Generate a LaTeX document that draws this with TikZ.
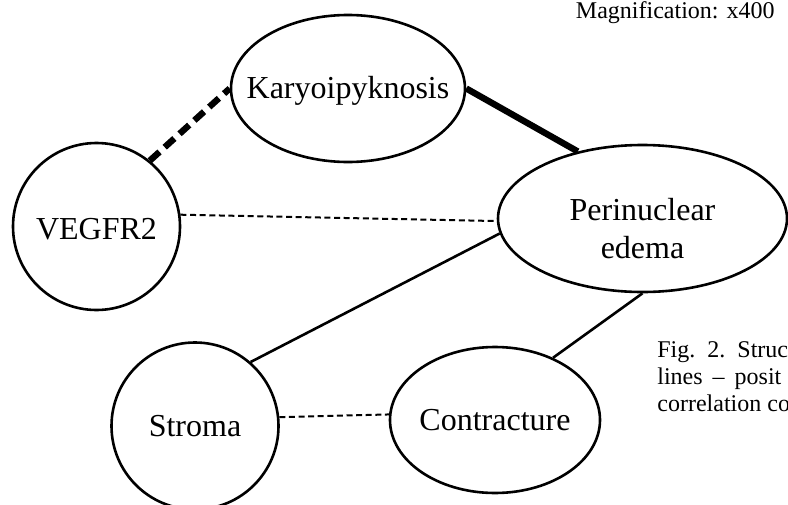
\documentclass[tikz,border=0pt]{standalone}
\usepackage{fontspec}
\setmainfont{Liberation Serif}
\usetikzlibrary{shapes.geometric}

\tikzset{
    bubble/.style={shape=ellipse, draw=black, line width=1.3pt, inner sep=0pt},
    ball/.style={shape=circle, draw=black, line width=1.3pt, inner sep=0pt, minimum size=83.5pt},
    tag/.style={font=\fontsize{16}{19}\selectfont, align=center},
    note/.style={font=\fontsize{12}{14}\selectfont, inner sep=0pt, anchor=base west},
    thickdash/.style={line width=3.2pt, dash pattern=on 6.5pt off 3.5pt},
    thickline/.style={line width=3.2pt},
    thindash/.style={line width=1pt, dash pattern=on 3pt off 1.8pt},
    thinline/.style={line width=1.3pt}
}

\begin{document}
\begin{tikzpicture}[x=0.5pt, y=-0.5pt]

    \useasboundingbox (0,0) rectangle (788,504);
    \clip (0,0) rectangle (788,504);

    \node[bubble, minimum width=117pt, minimum height=73.5pt,
          label={[tag, yshift=-1pt]center:Karyoipyknosis}] (karyo) at (348,88.5) {};
    \node[bubble, minimum width=144.5pt, minimum height=73.5pt,
          label={[tag, yshift=-5pt]center:Perinuclear\\edema}] (perin) at (642.5,218.5) {};
    \node[bubble, minimum width=105pt, minimum height=73pt,
          label={[tag]center:Contracture}] (contr) at (495,420) {};
    \node[ball, label={[tag, yshift=-1.5pt]center:VEGFR2}] (vegfr) at (96.5,226.5) {};
    \node[ball, label={[tag]center:Stroma}] (stroma) at (195,426) {};

    \path [thickdash] (vegfr.51) edge (karyo.west);
    \path [thickline] (karyo.east) edge (perin.134.6);
    \path [thindash] (vegfr.8.7) edge (perin.181.4);
    \path [thinline] (stroma.49) edge (perin.186);
    \path [thinline] (contr.47.4) edge (perin.south);
    \path [thindash] (stroma.6) edge (contr.177.5);

    % caption lines run off the right edge
    \node[note, anchor=base east] (magn) at (775,18) {Magnification: x400};
    \node[note] (cap1) at (657,357) {Fig.\hspace{6pt}2.\hspace{6pt}Struc};
    \node[note] (cap2) at (657,384) {lines\hspace{5pt}–\hspace{5pt}posit};
    \node[note] (cap3) at (657,411) {correlation co};

\end{tikzpicture}
\end{document}
